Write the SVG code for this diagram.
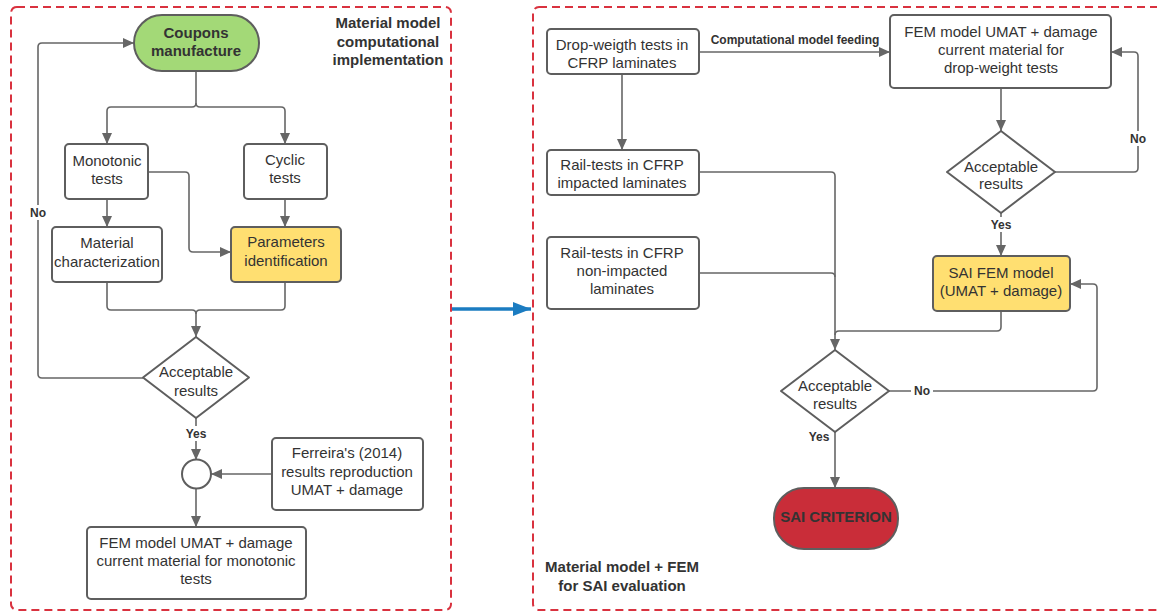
<svg xmlns="http://www.w3.org/2000/svg" width="1157" height="611" viewBox="0 0 1157 611">
  <style>
    text { font-family: "Liberation Sans", Arial, sans-serif; fill: #333333; text-anchor: middle; }
    .t { font-size: 15px; }
    .b { font-size: 15px; font-weight: bold; }
    .lbl { font-size: 12px; font-weight: bold; }
    .box { fill: #ffffff; stroke: #5e5e5e; stroke-width: 2; }
    .green { fill: #a3d977; }
    .yellow { fill: #ffdf71; }
    .red { fill: #c92d39; }
    .frame { fill: none; stroke: #d9323f; stroke-width: 2; stroke-dasharray: 8 5; }
    .conn { fill: none; stroke: #666666; stroke-width: 1.6; }
    .arr { marker-end: url(#ah); }
    .diamond { fill: #ffffff; stroke: #5e5e5e; stroke-width: 2; stroke-linejoin: round; }
    .bg { fill: #ffffff; }
  </style>
  <defs>
    <marker id="ah" markerUnits="userSpaceOnUse" markerWidth="11" markerHeight="10" refX="11" refY="5" orient="auto">
      <path d="M0,0 L11,5 L0,10 z" fill="#666666"/>
    </marker>
    <marker id="ahBlue" markerUnits="userSpaceOnUse" markerWidth="18" markerHeight="14" refX="18" refY="7" orient="auto">
      <path d="M0,0 L18,7 L0,14 z" fill="#1b7cc1"/>
    </marker>
  </defs>

  <rect width="1157" height="611" fill="#ffffff"/>

  <!-- section frames -->
  <g id="frames">
    <rect class="frame" x="11" y="7" width="440" height="603" rx="6"/>
    <rect class="frame" x="533" y="7" width="640" height="603" rx="6"/>
  </g>

  <!-- connectors -->
  <g id="connectors">
    <!-- left section -->
    <path class="conn" d="M196,71 V103 Q196,107 192,107 H111 Q107,107 107,111 V144" marker-end="url(#ah)"/>
    <path class="conn" d="M196,103 Q196,107 200,107 H281 Q285,107 285,111 V144" marker-end="url(#ah)"/>
    <path class="conn" d="M107,199 V227" marker-end="url(#ah)"/>
    <path class="conn" d="M285,199 V227" marker-end="url(#ah)"/>
    <path class="conn" d="M148,172 H185 Q189,172 189,176 V248 Q189,252 193,252 H231" marker-end="url(#ah)"/>
    <path class="conn" d="M107,282 V306 Q107,310 111,310 H192 Q196,310 196,314 V337" marker-end="url(#ah)"/>
    <path class="conn" d="M285,282 V306 Q285,310 281,310 H200 Q196,310 196,314"/>
    <path class="conn" d="M143,378 H42 Q38,378 38,374 V47 Q38,43 42,43 H134" marker-end="url(#ah)"/>
    <path class="conn" d="M196,418 V460" marker-end="url(#ah)"/>
    <path class="conn" d="M272,474 H211" marker-end="url(#ah)"/>
    <path class="conn" d="M196,489 V527" marker-end="url(#ah)"/>

    <!-- link between sections -->
    <path d="M452,309 H531" fill="none" stroke="#1b7cc1" stroke-width="3.5" marker-end="url(#ahBlue)"/>

    <!-- right section -->
    <path class="conn" d="M699,52 H890" marker-end="url(#ah)"/>
    <path class="conn" d="M1001,88 V131" marker-end="url(#ah)"/>
    <path class="conn" d="M1055,172 H1134 Q1138,172 1138,168 V56 Q1138,52 1134,52 H1111" marker-end="url(#ah)"/>
    <path class="conn" d="M1001,213 V256" marker-end="url(#ah)"/>
    <path class="conn" d="M622,74 V150" marker-end="url(#ah)"/>
    <path class="conn" d="M699,172 H831 Q835,172 835,176 V350" marker-end="url(#ah)"/>
    <path class="conn" d="M699,273 H831 Q835,273 835,277"/>
    <path class="conn" d="M1001,311 V327 Q1001,331 997,331 H839 Q835,331 835,335"/>
    <path class="conn" d="M889,391 H1093 Q1097,391 1097,387 V288 Q1097,284 1093,284 H1070" marker-end="url(#ah)"/>
    <path class="conn" d="M835,432 V488" marker-end="url(#ah)"/>

    <!-- connector labels -->
    <rect class="bg" x="27" y="205" width="22" height="15"/>
    <text class="lbl" x="38" y="217">No</text>
    <rect class="bg" x="183" y="426" width="26" height="15"/>
    <text class="lbl" x="196" y="438">Yes</text>
    <text class="lbl" x="795" y="44">Computational model feeding</text>
    <rect class="bg" x="1127" y="131" width="22" height="15"/>
    <text class="lbl" x="1138" y="143">No</text>
    <rect class="bg" x="988" y="217" width="26" height="15"/>
    <text class="lbl" x="1001" y="229">Yes</text>
    <rect class="bg" x="911" y="384" width="22" height="15"/>
    <text class="lbl" x="922" y="395">No</text>
    <text class="lbl" x="819" y="441">Yes</text>
  </g>

  <!-- section titles -->
  <g id="title-left">
    <text class="b" x="388" y="28">Material model</text>
    <text class="b" x="388" y="47">computational</text>
    <text class="b" x="388" y="65">implementation</text>
  </g>
  <g id="title-right">
    <text class="b" x="622" y="572">Material model + FEM</text>
    <text class="b" x="622" y="591">for SAI evaluation</text>
  </g>

  <!-- left section nodes -->
  <g id="coupons">
    <rect class="box green" x="134" y="15" width="125" height="56" rx="28"/>
    <text class="b" x="196" y="38">Coupons</text>
    <text class="b" x="196" y="56">manufacture</text>
  </g>
  <g id="monotonic">
    <rect class="box" x="65" y="144" width="83" height="55" rx="4"/>
    <text class="t" x="107" y="166">Monotonic</text>
    <text class="t" x="107" y="184">tests</text>
  </g>
  <g id="cyclic">
    <rect class="box" x="244" y="144" width="83" height="55" rx="4"/>
    <text class="t" x="285" y="165">Cyclic</text>
    <text class="t" x="285" y="183">tests</text>
  </g>
  <g id="characterization">
    <rect class="box" x="52" y="227" width="110" height="55" rx="4"/>
    <text class="t" x="107" y="248">Material</text>
    <text class="t" x="107" y="267">characterization</text>
  </g>
  <g id="parameters">
    <rect class="box yellow" x="231" y="227" width="110" height="55" rx="4"/>
    <text class="t" x="286" y="247">Parameters</text>
    <text class="t" x="286" y="266">identification</text>
  </g>
  <g id="check-left">
    <polygon class="diamond" points="196,337 249,377.5 196,418 143,377.5"/>
    <text class="t" x="196" y="377">Acceptable</text>
    <text class="t" x="196" y="396">results</text>
  </g>
  <g id="merge">
    <circle cx="196.5" cy="474" r="14.5" fill="#ffffff" stroke="#5e5e5e" stroke-width="2"/>
  </g>
  <g id="ferreira">
    <rect class="box" x="272" y="438" width="151" height="72" rx="4"/>
    <text class="t" x="347" y="458">Ferreira's (2014)</text>
    <text class="t" x="347" y="477">results reproduction</text>
    <text class="t" x="347" y="495">UMAT + damage</text>
  </g>
  <g id="fem-monotonic">
    <rect class="box" x="87" y="527" width="219" height="72" rx="4"/>
    <text class="t" x="196" y="548">FEM model UMAT + damage</text>
    <text class="t" x="196" y="566">current material for monotonic</text>
    <text class="t" x="196" y="584">tests</text>
  </g>

  <!-- right section nodes -->
  <g id="drop-weight">
    <rect class="box" x="547" y="29" width="152" height="45" rx="4"/>
    <text class="t" x="622" y="50">Drop-weigth tests in</text>
    <text class="t" x="622" y="68">CFRP laminates</text>
  </g>
  <g id="fem-drop">
    <rect class="box" x="890" y="15" width="221" height="73" rx="4"/>
    <text class="t" x="1001" y="37">FEM model UMAT + damage</text>
    <text class="t" x="1001" y="55">current material for</text>
    <text class="t" x="1001" y="73">drop-weight tests</text>
  </g>
  <g id="check-drop">
    <polygon class="diamond" points="1001,131 1055,172 1001,213 947,172"/>
    <text class="t" x="1001" y="172">Acceptable</text>
    <text class="t" x="1001" y="189">results</text>
  </g>
  <g id="rail-impacted">
    <rect class="box" x="547" y="150" width="152" height="45" rx="4"/>
    <text class="t" x="622" y="170">Rail-tests in CFRP</text>
    <text class="t" x="622" y="188">impacted laminates</text>
  </g>
  <g id="rail-non-impacted">
    <rect class="box" x="547" y="237" width="152" height="72" rx="4"/>
    <text class="t" x="622" y="258">Rail-tests in CFRP</text>
    <text class="t" x="622" y="276">non-impacted</text>
    <text class="t" x="622" y="294">laminates</text>
  </g>
  <g id="sai-fem">
    <rect class="box yellow" x="933" y="256" width="137" height="55" rx="4"/>
    <text class="t" x="1001" y="278">SAI FEM model</text>
    <text class="t" x="1001" y="296">(UMAT + damage)</text>
  </g>
  <g id="check-sai">
    <polygon class="diamond" points="835,350 889,391 835,432 781,391"/>
    <text class="t" x="835" y="391">Acceptable</text>
    <text class="t" x="835" y="409">results</text>
  </g>
  <g id="sai-criterion">
    <rect class="box red" x="774" y="488" width="124" height="61" rx="30"/>
    <text class="b" x="836" y="522">SAI CRITERION</text>
  </g>
</svg>
